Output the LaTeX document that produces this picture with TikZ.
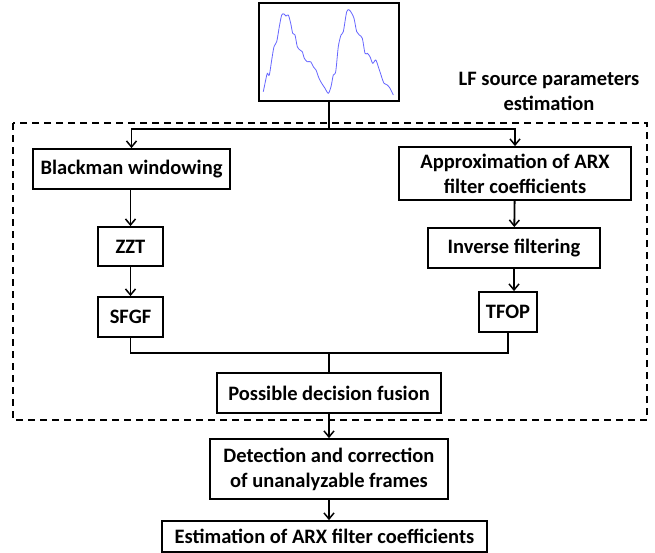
\documentclass[tikz,border=0pt]{standalone}
\usepackage{fontspec}
\setmainfont{Carlito}
\usetikzlibrary{arrows.meta}
\newcommand*{\boxlw }{1.8pt}
\newcommand*{\boxht }{40}
\begin{document}
\begin{tikzpicture}[x=1pt, y=-1pt,
    font=\fontsize{20.5}{25}\selectfont\bfseries,
    blk/.style={draw, line width=\boxlw, align=center, inner sep=0pt, minimum height=\boxht},
    arr/.style={line width=\boxlw, -{Straight Barb[length=6pt, width=10pt, line width=1.5pt]}},
    ln/.style={line width=\boxlw},
    dashbox/.style={line width=\boxlw, dash pattern=on 7pt off 5pt}]
    \useasboundingbox (0,0) rectangle (655,552);
    % input signal
    \node [draw, line width=\boxlw, minimum width=140, minimum height=98, inner sep=0pt] (wave) at (329,52) {};
    \draw [blue!60, line width=0.8pt] plot [smooth, tension=0.5] coordinates {
        (263.3,91.7) (265.7,80) (267.3,73.3) (269.3,75) (271.7,60) (274,46.7) (276.7,41.7)
        (279.3,26.7) (281.7,15) (284,14) (286,16) (288.3,15) (290.7,23.3) (292.7,33.3)
        (295,35) (297.3,46.7) (300,50) (302.3,51.7) (304.3,58.3) (307.3,61.7) (310.7,61.7)
        (313.3,66.7) (316,70) (319,78.3) (321.7,83.3) (325,88.3) (328.3,93.3) (331,86.7)
        (333.3,75) (335.7,71.7) (338.3,46.7) (341,35) (343.3,31.7) (346.7,11.7) (349.3,10)
        (351.7,13.3) (354,18.3) (356.7,31.7) (359.3,35) (362.3,38.3) (365,53.3) (367.3,53.3)
        (370,56.7) (372.7,63.3) (375.7,60) (378.3,66.7) (381,75) (384,83.3) (387.3,85)
        (390,88.3) (393.3,95)};
    \node [align=center] (lflabel) at (549,91) {LF source parameters\\estimation};
    \draw [dashbox] (13,123) rectangle (647,420);
    % left branch
    \node [blk, minimum width=197] (blackman) at (131.5,169) {Blackman windowing};
    \node [blk, minimum width=65, minimum height=39] (zzt) at (130.5,246.5) {ZZT};
    \node [blk, minimum width=65] (sfgf) at (130.5,317) {SFGF};
    % right branch
    \node [blk, minimum width=232, minimum height=53] (arx) at (515,173.5) {Approximation of ARX\\filter coefficients};
    \node [blk, minimum width=172] (inverse) at (514,248) {Inverse filtering};
    \node [blk, minimum width=58] (tfop) at (508,312) {TFOP};
    % fusion and after
    \node [blk, minimum width=224] (fusion) at (329,393) {Possible decision fusion};
    \node [blk, minimum width=238, minimum height=60] (detect) at (329,469) {Detection and correction\\of unanalyzable frames};
    \node [blk, minimum width=325, minimum height=31] (estim) at (324.5,536.5) {Estimation of ARX filter coefficients};
    \coordinate (split) at (329,129);
    \coordinate (merge) at (329,353);
    \draw [ln] (wave.south) -- (split);
    \draw [arr] (split) -| (blackman.north);
    \draw [arr] (split) -| (arx.north);
    \draw [arr] (blackman.south -| zzt) -- (zzt.north);
    \draw [arr] (zzt) -- (sfgf);
    \draw [arr] (arx) -- (inverse);
    \draw [arr] (inverse.south) -- (inverse.south |- tfop.north);
    \draw [ln] (sfgf.south) |- (merge) -| (tfop.south);
    \draw [ln] (merge) -- (fusion.north);
    \draw [arr] (fusion) -- (detect);
    \draw [arr] (detect.south) -- (detect.south |- estim.north);
\end{tikzpicture}
\end{document}
